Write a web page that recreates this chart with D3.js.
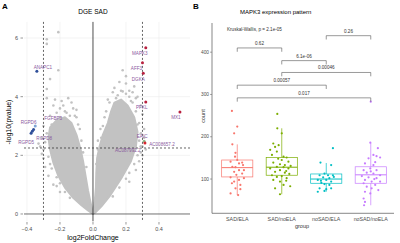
<!DOCTYPE html>
<html>
<head>
<meta charset="utf-8">
<script src="https://cdn.jsdelivr.net/npm/d3@7"></script>
<style>
body{margin:0;background:#fff}
text{font-family:"Liberation Sans",Arial,sans-serif}
</style>
</head>
<body>
<div id="chart"></div>
<script>

// ---- panel A data (volcano) ----
var leftArm = [[0,0],[-0.03,0.12],[-0.07,0.3],[-0.12,0.55],[-0.17,0.9],[-0.21,1.3],[-0.24,1.75],[-0.26,2.2],[-0.27,2.6],[-0.26,2.95],[-0.22,3.2],[-0.17,3.3],[-0.13,3.1],[-0.1,2.7],[-0.075,2.2],[-0.06,1.8],[-0.045,1.3],[-0.03,0.8],[-0.015,0.4],[0,0]]
var rightArm = [[0,0],[0.01,0.4],[0.018,0.9],[0.02,1.4],[0.025,1.9],[0.04,2.3],[0.06,2.7],[0.09,3.1],[0.11,3.5],[0.13,3.8],[0.17,3.9],[0.21,3.7],[0.25,3.3],[0.27,2.8],[0.26,2.3],[0.23,1.8],[0.17,1.2],[0.1,0.6],[0.05,0.25],[0.02,0.08],[0,0]]
var grayPts = [[-0.21,6.2],[-0.28,5.96],[-0.28,5.8],[-0.21,4.9],[-0.26,4.6],[-0.28,4.26],[-0.28,3.95],[-0.15,3.95],[-0.24,3.7],[-0.19,3.85],[-0.12,3.6],[-0.17,3.5],[-0.22,3.45],[-0.26,3.35],[-0.3,3.0],[-0.31,2.6],[-0.32,2.3],[-0.3,1.9],[-0.29,1.6],[-0.27,1.3],[-0.24,1.0],[-0.2,0.75],[-0.14,3.35],[-0.1,3.3],[-0.08,2.9],[-0.2,3.6],
  [-0.3,2.2],[-0.29,2.45],[-0.28,2.75],[-0.25,3.05],[-0.2,3.3],[-0.16,3.45],[-0.11,3.35],[-0.09,3.05],[-0.07,2.5],[-0.27,1.95],[-0.25,1.55],[-0.22,1.25],[-0.2,1.05],[-0.17,0.75],[-0.14,0.55],[-0.33,2.4],[-0.31,2.05],[-0.22,0.95],[-0.26,1.7],[-0.18,3.7],[-0.13,3.8],[-0.23,3.9],[-0.1,3.55],[-0.06,2.1],[-0.04,1.6],
  [0.18,4.9],[0.2,4.7],[0.17,4.2],[0.24,4.15],[0.22,4.2],[0.26,3.95],[0.14,3.95],[0.29,3.7],[0.3,3.4],[0.31,2.9],[0.31,2.6],[0.3,2.3],[0.29,2.1],[0.28,1.8],[0.26,1.5],[0.22,1.1],[0.1,3.8],[0.08,3.5],[0.06,3.0],[0.05,2.6],[0.03,2.5],[0.15,4.05],[0.22,4.0],[0.28,3.1],[0.18,4.18],[0.24,3.8],
  [0.28,2.5],[0.29,2.75],[0.27,3.05],[0.26,3.5],[0.23,3.85],[0.2,4.1],[0.12,4.15],[0.09,3.9],[0.07,3.3],[0.045,2.9],[0.03,2.2],[0.02,1.7],[0.27,2.0],[0.25,1.7],[0.22,1.4],[0.2,1.2],[0.16,0.9],[0.12,0.6],[0.3,2.0],[0.32,2.2],[0.27,4.0],[0.25,4.35],[0.2,4.45],[0.16,4.5],[0.13,4.3]]
var downGenes = ["ANAPC1","FGFBP3","RGPD6","RGPD8","RGPD5"]
var downLfc = [-0.34,-0.35,-0.36,-0.368,-0.375]
var downP = [4.87,3.0,2.88,2.82,2.75]
var upGenes = ["MAPK3","AFF3","DGKA","PFKL","MX1","EAIC","AC008657.2","AC087992.2"]
var upLfc = [0.32,0.30,0.305,0.32,0.527,0.31,0.315,0.29]
var upP = [5.67,5.16,4.8,3.82,3.48,2.48,2.42,2.3]
var xTicksA = [-0.4,-0.2,0,0.2,0.4]
var yTicksA = [0,2,4,6]

// ---- panel B data (MAPK3 boxplot) ----
var groups = ["SAD/ELA","SAD/noELA","noSAD/ELA","noSAD/noELA"]
var colors = ["#F8766D","#7CAE00","#00BFC4","#C77CFF"]
var boxQ1 = [105,109,90,90]
var boxMed = [127,128,100,110]
var boxQ3 = [145,151,112,129]
var whiskLo = [62,64,70,38]
var whiskHi = [182,220,138,186]
// [count, jitter as fraction of group step]
var sadEla = [[224,0],[208,-0.07],[182,-0.11],[162,-0.04],[153,-0.05],[141,-0.15],[139,0.11],[137,0.04],[129,-0.11],[128,-0.04],[121,0.04],[121,0.15],[117,-0.07],[113,0.11],[104,-0.15],[98,0.04],[102,0.15],[94,-0.07],[86,0.07],[78,-0.04],[76,0.07],[66,-0.15],[62,0.02],[261,-0.12],[133,0.13],[110,-0.02],[145,0],[90,-0.12]]
var sadNoEla = [[220,-0.1],[208,0],[184,-0.19],[180,-0.07],[176,-0.15],[169,-0.26],[165,-0.11],[157,-0.22],[153,0.04],[151,0.11],[145,0],[141,0.15],[139,-0.19],[135,-0.04],[133,0.07],[129,-0.11],[128,0.04],[125,-0.26],[125,0.15],[121,-0.04],[117,-0.15],[115,0.07],[109,-0.22],[107,0],[105,-0.11],[102,0.11],[98,-0.19],[94,-0.04],[86,0.04],[83,0.19],[78,-0.15],[64,-0.04],[254,-0.1],[131,0.2],[148,-0.08],[112,0.17],[96,0.1],[119,0.1]]
var noSadEla = [[173,0.15],[139,-0.13],[133,0.11],[113,-0.04],[109,-0.15],[109,0.04],[109,0.15],[104,-0.07],[102,0.07],[98,-0.19],[98,0],[94,0.11],[91,-0.11],[88,-0.04],[86,0.07],[78,-0.15],[76,0],[78,0.11],[70,-0.19],[72,-0.04],[105,0.17],[96,-0.12]]
var noSadNoEla = [[186,-0.01],[173,0.16],[157,0.06],[154,0.13],[149,-0.05],[151,0.21],[137,-0.13],[133,0.06],[125,-0.01],[121,-0.16],[121,0.13],[115,-0.09],[113,0.06],[109,0.21],[107,-0.2],[104,-0.05],[102,0.13],[98,-0.13],[94,0.02],[94,0.21],[90,-0.16],[86,0.1],[82,-0.09],[78,0.02],[74,0.17],[70,-0.13],[66,-0.01],[54,-0.16],[46,-0.13],[38,-0.15],[283,0],[140,0.1],[118,0],[100,0.08]]
var compPairs = [[2,3],[0,1],[1,2],[1,3],[0,2],[0,3]]
var compP = ["0.26","0.62","6.1e-06","0.00046","0.00057","0.017"]
var compY = [439,410,380,352,322,292]
var yTicksB = [100,200,300,400]

var W = 400, H = 243
var svg = d3.select("#chart").append("svg").attr("width",W).attr("height",H)
svg.append("rect").attr("width",W).attr("height",H).attr("fill","#fff")

// =========== A ===========
var xA = d3.scaleLinear().domain([-0.418,0.588]).range([24,190])
var yA = d3.scaleLinear().domain([-0.25,6.55]).range([221.3,21.9])
var gA = svg.append("g")

gA.selectAll(".gx").data(xTicksA.filter(function(d){return d!=0})).enter().append("line")
  .attr("x1",function(d){return xA(d)}).attr("x2",function(d){return xA(d)})
  .attr("y1",yA.range()[0]).attr("y2",yA.range()[1])
  .attr("stroke","#ebebeb").attr("stroke-width",0.6)
gA.selectAll(".gy").data(yTicksA.filter(function(d){return d!=0})).enter().append("line")
  .attr("x1",24).attr("x2",190)
  .attr("y1",function(d){return yA(d)}).attr("y2",function(d){return yA(d)})
  .attr("stroke","#ebebeb").attr("stroke-width",0.6)

var area = d3.line().x(function(d){return xA(d[0])}).y(function(d){return yA(d[1])}).curve(d3.curveLinearClosed)
;[leftArm,rightArm].forEach(function(arm){
  gA.append("path").attr("d",area(arm)).attr("fill","#c2c2c2").attr("stroke","#c2c2c2").attr("stroke-width",2).attr("stroke-linejoin","round")
})
gA.selectAll(".gp").data(grayPts).enter().append("circle")
  .attr("cx",function(d){return xA(d[0])}).attr("cy",function(d){return yA(d[1])})
  .attr("r",1.3).attr("fill","#c2c2c2")

// reference lines
gA.append("line").attr("x1",24).attr("x2",190).attr("y1",yA(0)).attr("y2",yA(0)).attr("stroke","#333").attr("stroke-width",0.7)
gA.append("line").attr("x1",xA(0)).attr("x2",xA(0)).attr("y1",yA.range()[1]).attr("y2",yA.range()[0]).attr("stroke","#222").attr("stroke-width",0.8)
;[-0.3,0.3].forEach(function(v){
  gA.append("line").attr("x1",xA(v)).attr("x2",xA(v)).attr("y1",yA.range()[1]).attr("y2",yA.range()[0])
    .attr("stroke","#222").attr("stroke-width",0.7).attr("stroke-dasharray","2,2")
})
gA.append("line").attr("x1",24).attr("x2",190).attr("y1",yA(2.25)).attr("y2",yA(2.25))
  .attr("stroke","#222").attr("stroke-width",0.7).attr("stroke-dasharray","2,2")

// significant genes
var upCol = ["#b8203f","#b8203f","#b8203f","#b8203f","#b8203f","#8fb88a","#d8262f","#c2c2c2"]
upGenes.forEach(function(g,i){
  gA.append("circle").attr("cx",xA(upLfc[i])).attr("cy",yA(upP[i])).attr("r",1.5).attr("fill",upCol[i])
})
downGenes.forEach(function(g,i){
  gA.append("circle").attr("cx",xA(downLfc[i])).attr("cy",yA(downP[i])).attr("r",1.5).attr("fill",i==1?"#7fa5d6":"#2f4f99")
})
var labOff = {"ANAPC1":[6,-4],"FGFBP3":[18,-7],"RGPD6":[-5,-7],"RGPD8":[12,7],"RGPD5":[-5,9],
  "MAPK3":[-6,6],"AFF3":[-6,6],"DGKA":[-5,6],"PFKL":[-4,6],"MX1":[-4,6],"EAIC":[-2,-5],"AC008657.2":[17,1],"AC087992.2":[-13,4]}
upGenes.concat(downGenes).forEach(function(g){
  var i = upGenes.indexOf(g), lx, ly
  if(i>=0){lx=xA(upLfc[i]);ly=yA(upP[i])}else{i=downGenes.indexOf(g);lx=xA(downLfc[i]);ly=yA(downP[i])}
  gA.append("text").attr("x",lx+labOff[g][0]).attr("y",ly+labOff[g][1]+1.5)
    .attr("text-anchor","middle").attr("font-size",4.6).attr("fill","#8a5a9e").text(g)
})

// axes A
gA.selectAll(".tyA").data(yTicksA).enter().append("text")
  .attr("x",18).attr("y",function(d){return yA(d)+2}).attr("text-anchor","end")
  .attr("font-size",5.5).attr("fill","#4d4d4d").text(function(d){return d})
gA.selectAll(".tkyA").data(yTicksA).enter().append("line")
  .attr("x1",20.5).attr("x2",23).attr("y1",function(d){return yA(d)}).attr("y2",function(d){return yA(d)})
  .attr("stroke","#333").attr("stroke-width",0.5)
gA.selectAll(".txA").data(xTicksA).enter().append("text")
  .attr("x",function(d){return xA(d)}).attr("y",231).attr("text-anchor","middle")
  .attr("font-size",5.5).attr("fill","#4d4d4d").text(function(d){return d3.format(".1f")(d)})
gA.selectAll(".tkxA").data(xTicksA).enter().append("line")
  .attr("x1",function(d){return xA(d)}).attr("x2",function(d){return xA(d)}).attr("y1",222).attr("y2",224.5)
  .attr("stroke","#333").attr("stroke-width",0.5)
gA.append("text").attr("x",93).attr("y",240).attr("text-anchor","middle").attr("font-size",7).text("log2FoldChange")
gA.append("text").attr("transform","translate(11,122) rotate(-90)").attr("text-anchor","middle").attr("font-size",7).text("-log10(pvalue)")
gA.append("text").attr("x",93).attr("y",14).attr("text-anchor","middle").attr("font-size",6.5).text("DGE SAD")
svg.append("text").attr("x",2).attr("y",9).attr("font-size",8).attr("font-weight","bold").text("A")

// =========== B ===========
var xB = d3.scaleBand().domain(groups).range([215,393])
var yB = d3.scaleLinear().domain([19,469]).range([213.3,23])
var gB = svg.append("g")
var step = xB.step(), bw = step*0.7
var allPts = [sadEla,sadNoEla,noSadEla,noSadNoEla]

groups.forEach(function(g,i){
  var cx = xB(g)+xB.bandwidth()/2, c = colors[i]
  gB.append("line").attr("x1",cx).attr("x2",cx).attr("y1",yB(whiskHi[i])).attr("y2",yB(boxQ3[i])).attr("stroke",c).attr("stroke-width",0.7)
  gB.append("line").attr("x1",cx).attr("x2",cx).attr("y1",yB(boxQ1[i])).attr("y2",yB(whiskLo[i])).attr("stroke",c).attr("stroke-width",0.7)
  gB.append("rect").attr("x",cx-bw/2).attr("y",yB(boxQ3[i])).attr("width",bw).attr("height",yB(boxQ1[i])-yB(boxQ3[i]))
    .attr("fill","#fff").attr("fill-opacity",0.6).attr("stroke",c).attr("stroke-width",0.7)
  gB.append("line").attr("x1",cx-bw/2).attr("x2",cx+bw/2).attr("y1",yB(boxMed[i])).attr("y2",yB(boxMed[i])).attr("stroke",c).attr("stroke-width",1)
  gB.selectAll(".p"+i).data(allPts[i]).enter().append("circle")
    .attr("cx",function(d){return cx+d[1]*step}).attr("cy",function(d){return yB(d[0])})
    .attr("r",1.1).attr("fill",c)
})

// brackets
compPairs.forEach(function(p,i){
  var x1 = xB(groups[p[0]])+xB.bandwidth()/2, x2 = xB(groups[p[1]])+xB.bandwidth()/2, y = yB(compY[i]), yd = yB(compY[i]-9)
  gB.append("path").attr("d","M"+x1+","+yd+"V"+y+"H"+x2+"V"+yd).attr("fill","none").attr("stroke","#555").attr("stroke-width",0.6)
  gB.append("text").attr("x",(x1+x2)/2).attr("y",y-3).attr("text-anchor","middle").attr("font-size",4.6).attr("fill","#333").text(compP[i])
})
gB.append("text").attr("x",227).attr("y",yB(454)+1.5).attr("font-size",4.6).attr("fill","#333").text("Kruskal-Wallis, p = 2.1e-05")

// axes B
gB.append("line").attr("x1",212).attr("x2",212).attr("y1",23).attr("y2",213.3).attr("stroke","#555").attr("stroke-width",0.7)
gB.append("line").attr("x1",212).attr("x2",394).attr("y1",213.3).attr("y2",213.3).attr("stroke","#555").attr("stroke-width",0.7)
gB.selectAll(".tyB").data(yTicksB).enter().append("text")
  .attr("x",209).attr("y",function(d){return yB(d)+1.7}).attr("text-anchor","end")
  .attr("font-size",4.8).attr("fill","#4d4d4d").text(function(d){return d})
gB.selectAll(".tkyB").data(yTicksB).enter().append("line")
  .attr("x1",210).attr("x2",212).attr("y1",function(d){return yB(d)}).attr("y2",function(d){return yB(d)})
  .attr("stroke","#555").attr("stroke-width",0.5)
gB.selectAll(".txB").data(groups).enter().append("text")
  .attr("x",function(d){return xB(d)+xB.bandwidth()/2}).attr("y",220.5).attr("text-anchor","middle")
  .attr("font-size",5.3).attr("fill","#4d4d4d").text(function(d){return d})
gB.append("text").attr("x",302).attr("y",228).attr("text-anchor","middle").attr("font-size",5.5).attr("fill","#333").text("group")
gB.append("text").attr("transform","translate(205,116) rotate(-90)").attr("text-anchor","middle").attr("font-size",5.5).attr("fill","#333").text("count")
gB.append("text").attr("x",240).attr("y",13.5).attr("font-size",6).text("MAPK3 expression pattern")
svg.append("text").attr("x",193).attr("y",9).attr("font-size",8).attr("font-weight","bold").text("B")
</script>
</body>
</html>
